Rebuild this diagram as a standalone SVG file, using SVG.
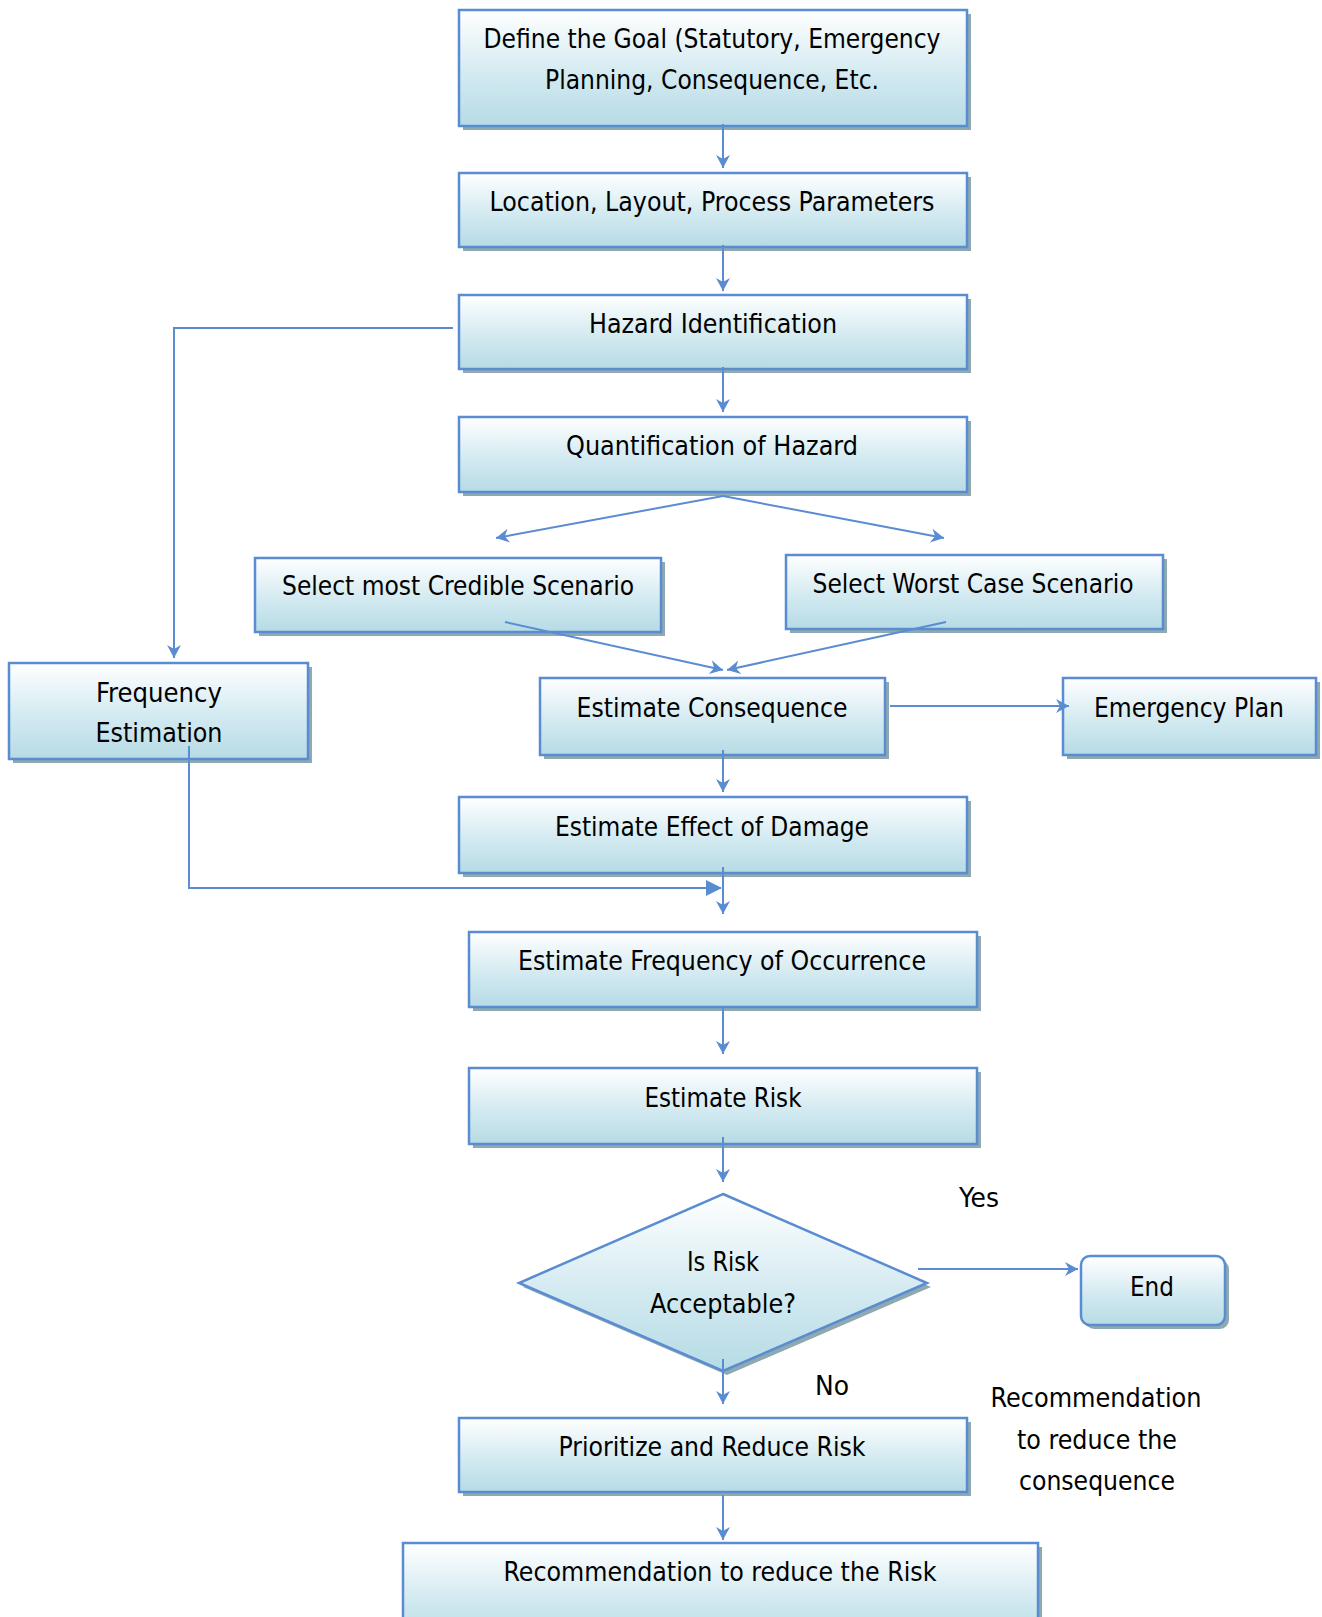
<svg xmlns="http://www.w3.org/2000/svg" width="1322" height="1617" viewBox="0 0 1322 1617">
<style>
.box{fill:url(#g);stroke:#5a8cd2;stroke-width:2.5}
.sh{fill:#8fa9b0}
.t{font-family:"Liberation Sans Narrow","DejaVu Sans Condensed","Liberation Sans",sans-serif;font-size:27px;fill:#000;text-anchor:middle}
.c{fill:none;stroke:#5a8cd2;stroke-width:2}
</style>
<defs>
<linearGradient id="g" x1="0" y1="0" x2="0" y2="1">
<stop offset="0" stop-color="#ffffff"/>
<stop offset="0.55" stop-color="#d3eaf1"/>
<stop offset="1" stop-color="#b6dbe5"/>
</linearGradient>
<marker id="a" markerUnits="userSpaceOnUse" markerWidth="16" markerHeight="16" viewBox="0 0 16 16" refX="14" refY="8" orient="auto">
<path d="M1,1 L14,8 L1,15 L5,8 z" fill="#5a8cd2"/>
</marker>
<marker id="f" markerUnits="userSpaceOnUse" markerWidth="18" markerHeight="18" viewBox="0 0 18 18" refX="16" refY="9" orient="auto">
<path d="M1,1 L17,9 L1,17 z" fill="#5a8cd2"/>
</marker>
</defs>

<g id="goal">
<rect class="sh" x="463" y="14" width="508" height="116"/>
<rect class="box" x="459" y="10" width="508" height="116"/>
<text class="t" x="712" y="48" textLength="457" lengthAdjust="spacingAndGlyphs">Define the Goal (Statutory, Emergency</text>
<text class="t" x="712" y="89" textLength="334" lengthAdjust="spacingAndGlyphs">Planning, Consequence, Etc.</text>
</g>

<g id="location">
<rect class="sh" x="463" y="177" width="508" height="74"/>
<rect class="box" x="459" y="173" width="508" height="74"/>
<text class="t" x="712" y="211" textLength="445" lengthAdjust="spacingAndGlyphs">Location, Layout, Process Parameters</text>
</g>

<g id="hazard">
<rect class="sh" x="463" y="299" width="508" height="74"/>
<rect class="box" x="459" y="295" width="508" height="74"/>
<text class="t" x="713" y="333" textLength="248" lengthAdjust="spacingAndGlyphs">Hazard Identification</text>
</g>

<g id="quant">
<rect class="sh" x="463" y="421" width="508" height="75"/>
<rect class="box" x="459" y="417" width="508" height="75"/>
<text class="t" x="712" y="455" textLength="292" lengthAdjust="spacingAndGlyphs">Quantification of Hazard</text>
</g>

<g id="credible">
<rect class="sh" x="259" y="562" width="406" height="74"/>
<rect class="box" x="255" y="558" width="406" height="74"/>
<text class="t" x="458" y="595" textLength="352" lengthAdjust="spacingAndGlyphs">Select most Credible Scenario</text>
</g>

<g id="worst">
<rect class="sh" x="790" y="559" width="377" height="74"/>
<rect class="box" x="786" y="555" width="377" height="74"/>
<text class="t" x="973" y="593" textLength="321" lengthAdjust="spacingAndGlyphs">Select Worst Case Scenario</text>
</g>

<g id="frequency">
<rect class="sh" x="13" y="667" width="299" height="96"/>
<rect class="box" x="9" y="663" width="299" height="96"/>
<text class="t" x="159" y="702" textLength="126" lengthAdjust="spacingAndGlyphs">Frequency</text>
<text class="t" x="159" y="742" textLength="127" lengthAdjust="spacingAndGlyphs">Estimation</text>
</g>

<g id="consequence">
<rect class="sh" x="544" y="682" width="345" height="77"/>
<rect class="box" x="540" y="678" width="345" height="77"/>
<text class="t" x="712" y="717" textLength="271" lengthAdjust="spacingAndGlyphs">Estimate Consequence</text>
</g>

<g id="emergency">
<rect class="sh" x="1067" y="682" width="253" height="77"/>
<rect class="box" x="1063" y="678" width="253" height="77"/>
<text class="t" x="1189" y="717" textLength="190" lengthAdjust="spacingAndGlyphs">Emergency Plan</text>
</g>

<g id="damage">
<rect class="sh" x="463" y="801" width="508" height="76"/>
<rect class="box" x="459" y="797" width="508" height="76"/>
<text class="t" x="712" y="836" textLength="314" lengthAdjust="spacingAndGlyphs">Estimate Effect of Damage</text>
</g>

<g id="occurrence">
<rect class="sh" x="473" y="936" width="508" height="75"/>
<rect class="box" x="469" y="932" width="508" height="75"/>
<text class="t" x="722" y="970" textLength="408" lengthAdjust="spacingAndGlyphs">Estimate Frequency of Occurrence</text>
</g>

<g id="risk">
<rect class="sh" x="473" y="1072" width="508" height="76"/>
<rect class="box" x="469" y="1068" width="508" height="76"/>
<text class="t" x="723" y="1107" textLength="157" lengthAdjust="spacingAndGlyphs">Estimate Risk</text>
</g>

<g id="decision">
<polygon class="sh" points="727,1198 931,1287 727,1375 523,1287"/>
<polygon class="box" points="723,1194 927,1283 723,1371 519,1283"/>
<text class="t" x="723" y="1271" textLength="72" lengthAdjust="spacingAndGlyphs">Is Risk</text>
<text class="t" x="723" y="1313" textLength="146" lengthAdjust="spacingAndGlyphs">Acceptable?</text>
</g>

<g id="end">
<rect class="sh" x="1085" y="1260" width="144" height="69" rx="9"/>
<rect class="box" x="1081" y="1256" width="144" height="69" rx="9"/>
<text class="t" x="1152" y="1296" textLength="44" lengthAdjust="spacingAndGlyphs">End</text>
</g>

<g id="prioritize">
<rect class="sh" x="463" y="1422" width="508" height="74"/>
<rect class="box" x="459" y="1418" width="508" height="74"/>
<text class="t" x="712" y="1456" textLength="307" lengthAdjust="spacingAndGlyphs">Prioritize and Reduce Risk</text>
</g>

<g id="recommend">
<rect class="sh" x="407" y="1547" width="635" height="100"/>
<rect class="box" x="403" y="1543" width="635" height="100"/>
<text class="t" x="720" y="1581" textLength="433" lengthAdjust="spacingAndGlyphs">Recommendation to reduce the Risk</text>
</g>

<g id="labels">
<text class="t" x="979" y="1207" textLength="40" lengthAdjust="spacingAndGlyphs">Yes</text>
<text class="t" x="832" y="1395" textLength="34" lengthAdjust="spacingAndGlyphs">No</text>
<text class="t" x="1096" y="1407" textLength="211" lengthAdjust="spacingAndGlyphs">Recommendation</text>
<text class="t" x="1097" y="1449" textLength="160" lengthAdjust="spacingAndGlyphs">to reduce the</text>
<text class="t" x="1097" y="1490" textLength="156" lengthAdjust="spacingAndGlyphs">consequence</text>
</g>

<g id="connectors">
<line class="c" x1="723" y1="124" x2="723" y2="168" marker-end="url(#a)"/>
<line class="c" x1="723" y1="245" x2="723" y2="291" marker-end="url(#a)"/>
<line class="c" x1="723" y1="367" x2="723" y2="412" marker-end="url(#a)"/>
<polyline class="c" points="453,328 174,328 174,658" marker-end="url(#a)"/>
<line class="c" x1="723" y1="496" x2="496" y2="538" marker-end="url(#a)"/>
<line class="c" x1="723" y1="496" x2="944" y2="538" marker-end="url(#a)"/>
<line class="c" x1="505" y1="622" x2="723" y2="670" marker-end="url(#a)"/>
<line class="c" x1="946" y1="622" x2="727" y2="670" marker-end="url(#a)"/>
<line class="c" x1="890" y1="706" x2="1069" y2="706" marker-end="url(#a)"/>
<line class="c" x1="723" y1="750" x2="723" y2="792" marker-end="url(#a)"/>
<polyline class="c" points="189,746 189,888 721,888" marker-end="url(#f)"/>
<line class="c" x1="723" y1="867" x2="723" y2="914" marker-end="url(#a)"/>
<line class="c" x1="723" y1="1007" x2="723" y2="1054" marker-end="url(#a)"/>
<line class="c" x1="723" y1="1137" x2="723" y2="1182" marker-end="url(#a)"/>
<line class="c" x1="918" y1="1269" x2="1078" y2="1269" marker-end="url(#a)"/>
<line class="c" x1="723" y1="1359" x2="723" y2="1404" marker-end="url(#a)"/>
<line class="c" x1="723" y1="1495" x2="723" y2="1540" marker-end="url(#a)"/>
</g>
</svg>
